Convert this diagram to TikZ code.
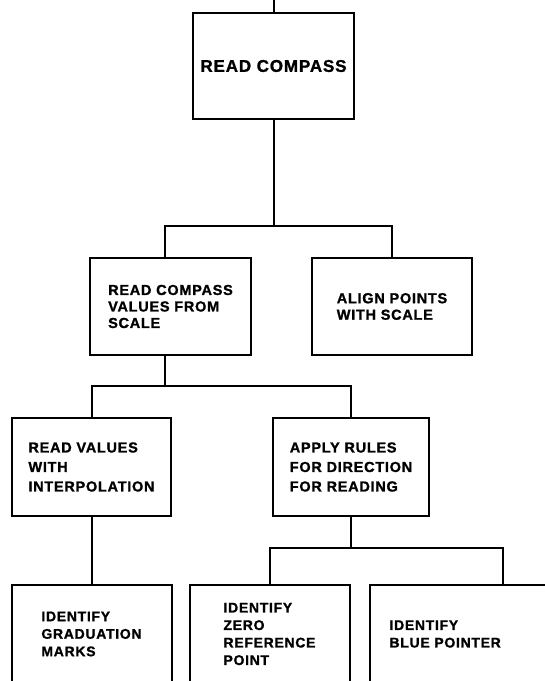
\documentclass[tikz,border=0pt]{standalone}
\usepackage{fontspec}
\setmainfont{Liberation Sans}[LetterSpace=5, BoldFeatures={FakeBold=1.2}]
\usetikzlibrary{positioning}

\begin{document}
\begin{tikzpicture}[x=1pt, y=1pt,
		b/.style={draw, line width=2pt, align=left, inner sep=0pt, outer sep=0pt, minimum width=160pt, minimum height=98pt, font=\bfseries\fontsize{14.5}{19.5}\selectfont},
		bm/.style={b, minimum height=97pt, font=\bfseries\fontsize{14.5}{16.5}\selectfont},
		bl/.style={b, font=\bfseries\fontsize{14}{17.5}\selectfont},
		l/.style={line width=2pt}]
		\useasboundingbox (0,0) rectangle (545,681);
		\clip (0,0) rectangle (545,681);
		\node[b, minimum width=161pt, minimum height=106pt, font=\bfseries\fontsize{17}{20}\selectfont] (top) at (273.5,615) {READ COMPASS};
		\node[bm, minimum width=161pt, below=139pt of top, xshift=-103pt] (values) {READ COMPASS\\VALUES FROM\\SCALE};
		\node[bm, right=61pt of values] (align) {ALIGN POINTS\\WITH SCALE};
		\node[b, minimum width=159pt, below=63pt of values, xshift=-79pt] (interp) {READ VALUES\\WITH\\INTERPOLATION};
		\node[b, minimum width=156pt, right=102pt of interp] (rules) {APPLY RULES\\FOR DIRECTION\\FOR READING};
		\node[bl, below=69pt of interp] (marks) {IDENTIFY\\GRADUATION\\MARKS};
		\node[bl, right=18pt of marks] (zero) {IDENTIFY\\ZERO\\REFERENCE\\POINT};
		\node[bl, text width=140pt, inner xsep=20pt, right=20pt of zero] (blue) {IDENTIFY\\BLUE POINTER};

		\coordinate (in) at (274,681);
		\coordinate (bar1) at (0,455);
		\coordinate (bar2) at (0,295);
		\coordinate (bar3) at (0,133);

		\draw[l] (top.north) -- (top.north |- in);
		\draw[l] (top.south) -- (top.south |- bar1) -| ([xshift=-6pt]values.north);
		\draw[l] (top.south |- bar1) -| (align.north);
		\draw[l] ([xshift=-6pt]values.south) -- ([xshift=-6pt]values.south |- bar2) -| (interp.north);
		\draw[l] ([xshift=-6pt]values.south |- bar2) -| (rules.north);
		\draw[l] (interp.south) -- (interp.south |- marks.north);
		\draw[l] (rules.south) -- (rules.south |- bar3) -| (zero.north);
		\draw[l] (rules.south |- bar3) -| ([xshift=43pt]blue.north);
	\end{tikzpicture}
\end{document}
